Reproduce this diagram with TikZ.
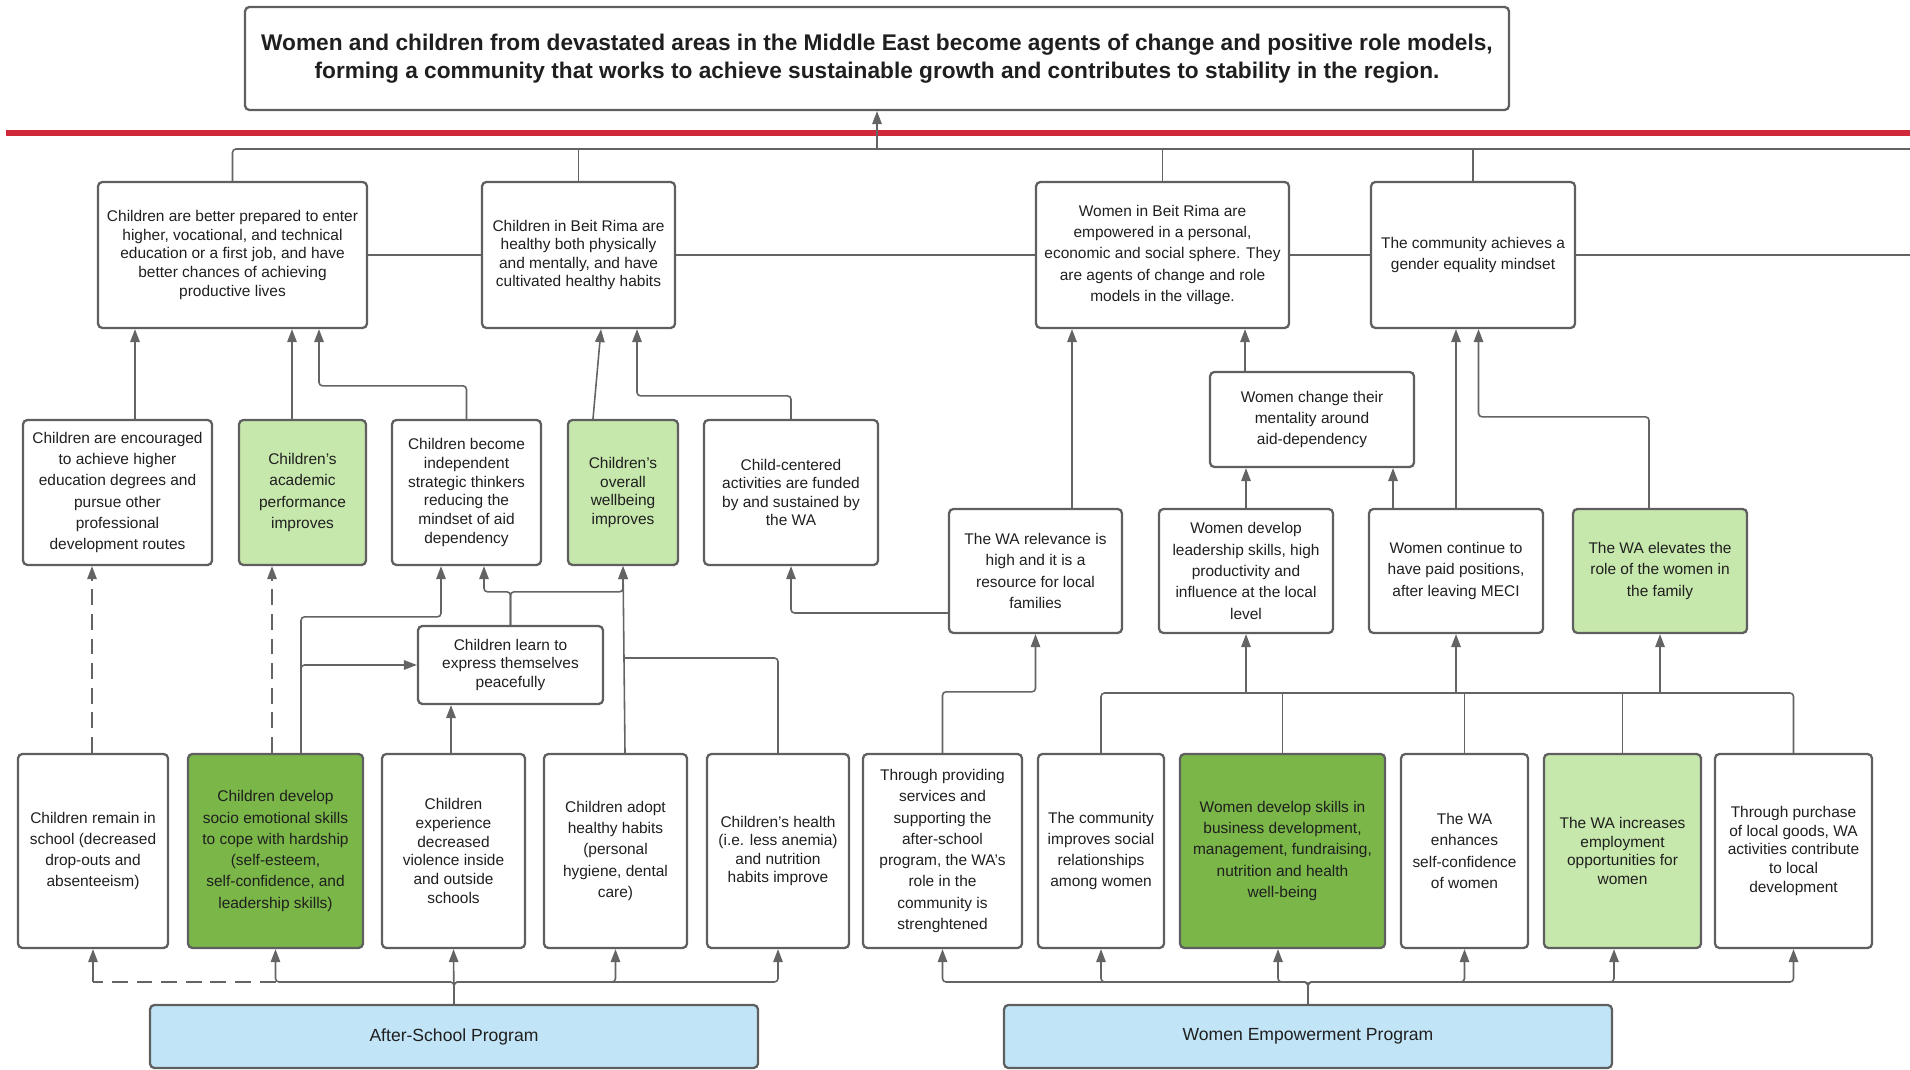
\documentclass[tikz,border=0pt]{standalone}
\usepackage{fontspec}
\setmainfont{Liberation Sans}
\usetikzlibrary{arrows.meta}
\definecolor{lineG}{RGB}{100,100,100}
\definecolor{edgeG}{RGB}{95,95,95}
\definecolor{paleG}{RGB}{199,232,172}
\definecolor{deepG}{RGB}{122,182,72}
\definecolor{paleB}{RGB}{193,228,247}
\definecolor{barR}{RGB}{207,40,56}

\begin{document}
\begin{tikzpicture}[font=\fontsize{8.8}{10.6}\selectfont, >={Triangle[length=2.6mm,width=1.9mm]}]
  \useasboundingbox (0,0) rectangle (38.2,21.4);
  \tikzstyle{box}=[draw=edgeG, line width=1.3pt, rounded corners=2.5pt, align=center, text=black!88, inner sep=1pt]
  \tikzstyle{loose}=[font=\fontsize{8.8}{12.1}\selectfont]
  \tikzstyle{prog}=[box, fill=paleB, minimum width=12.16cm, minimum height=1.26cm, font=\fontsize{10}{12}\selectfont]
  \tikzstyle{link}=[draw=lineG, line width=0.9pt, rounded corners=2pt]

  % goal and red line
  \node[box, font=\fontsize{12.9}{16}\selectfont\bfseries, minimum width=25.28cm, minimum height=2.06cm] (goal) at (17.54,20.23)
    {Women and children from devastated areas in the Middle East become agents of change and positive role models,\\ forming a community that works to achieve sustainable growth and contributes to stability in the region.};
  \draw[barR, line width=3pt] (0.12,18.74) -- (38.2,18.74);

  % long-term outcomes
  \node[box, minimum width=5.38cm, minimum height=2.92cm] (prepared) at (4.65,16.30)
    {Children are better prepared to enter\\ higher, vocational, and technical\\ education or a first job, and have\\ better chances of achieving\\ productive lives};
  \node[box, minimum width=3.86cm, minimum height=2.92cm] (healthy) at (11.57,16.30)
    {Children in Beit Rima are\\ healthy both physically\\ and mentally, and have\\ cultivated healthy habits};
  \node[box, loose, minimum width=5.06cm, minimum height=2.92cm] (empowered) at (23.25,16.30)
    {Women in Beit Rima are\\ empowered in a personal,\\ economic and social sphere. They\\ are agents of change and role\\ models in the village.};
  \node[box, loose, minimum width=4.08cm, minimum height=2.92cm] (equality) at (29.46,16.30)
    {The community achieves a\\ gender equality mindset};

  % intermediate outcomes, children
  \node[box, loose, minimum width=3.78cm, minimum height=2.90cm] (encouraged) at (2.35,11.55)
    {Children are encouraged\\ to achieve higher\\ education degrees and\\ pursue other\\ professional\\ development routes};
  \node[box, loose, fill=paleG, minimum width=2.54cm, minimum height=2.90cm] (academic) at (6.05,11.55)
    {Children's\\ academic\\ performance\\ improves};
  \node[box, minimum width=2.98cm, minimum height=2.90cm] (thinkers) at (9.33,11.55)
    {Children become\\ independent\\ strategic thinkers\\ reducing the\\ mindset of aid\\ dependency};
  \node[box, fill=paleG, minimum width=2.20cm, minimum height=2.90cm] (wellbeing) at (12.46,11.55)
    {Children's\\ overall\\ wellbeing\\ improves};
  \node[box, minimum width=3.48cm, minimum height=2.90cm] (funded) at (15.82,11.55)
    {Child-centered\\ activities are funded\\ by and sustained by\\ the WA};
  \node[box, minimum width=3.70cm, minimum height=1.56cm] (express) at (10.21,8.10)
    {Children learn to\\ express themselves\\ peacefully};

  % intermediate outcomes, women
  \node[box, loose, minimum width=4.08cm, minimum height=1.90cm] (mentality) at (26.24,13.01)
    {Women change their\\ mentality around\\ aid-dependency};
  \node[box, loose, minimum width=3.46cm, minimum height=2.48cm] (relevance) at (20.71,9.98)
    {The WA relevance is\\ high and it is a\\ resource for local\\ families};
  \node[box, loose, minimum width=3.48cm, minimum height=2.48cm] (leadership) at (24.92,9.98)
    {Women develop\\ leadership skills, high\\ productivity and\\ influence at the local\\ level};
  \node[box, loose, minimum width=3.48cm, minimum height=2.48cm] (paid) at (29.12,9.98)
    {Women continue to\\ have paid positions,\\ after leaving MECI};
  \node[box, loose, fill=paleG, minimum width=3.48cm, minimum height=2.48cm] (elevates) at (33.20,9.98)
    {The WA elevates the\\ role of the women in\\ the family};

  % short-term outcomes
  \node[box, loose, minimum width=3.00cm, minimum height=3.88cm] (inschool) at (1.86,4.38)
    {Children remain in\\ school (decreased\\ drop-outs and\\ absenteeism)};
  \node[box, loose, fill=deepG, minimum width=3.50cm, minimum height=3.88cm] (socio) at (5.51,4.38)
    {Children develop\\ socio emotional skills\\ to cope with hardship\\ (self-esteem,\\ self-confidence, and\\ leadership skills)};
  \node[box, minimum width=2.86cm, minimum height=3.88cm] (violence) at (9.07,4.38)
    {Children\\ experience\\ decreased\\ violence inside\\ and outside\\ schools};
  \node[box, loose, minimum width=2.86cm, minimum height=3.88cm] (habits) at (12.31,4.38)
    {Children adopt\\ healthy habits\\ (personal\\ hygiene, dental\\ care)};
  \node[box, minimum width=2.84cm, minimum height=3.88cm] (health) at (15.56,4.38)
    {Children's health\\ (i.e. less anemia)\\ and nutrition\\ habits improve};
  \node[box, loose, minimum width=3.18cm, minimum height=3.88cm] (services) at (18.85,4.38)
    {Through providing\\ services and\\ supporting the\\ after-school\\ program, the WA's\\ role in the\\ community is\\ strenghtened};
  \node[box, loose, minimum width=2.52cm, minimum height=3.88cm] (social) at (22.02,4.38)
    {The community\\ improves social\\ relationships\\ among women};
  \node[box, loose, fill=deepG, minimum width=4.10cm, minimum height=3.88cm] (skills) at (25.65,4.38)
    {Women develop skills in\\ business development,\\ management, fundraising,\\ nutrition and health\\ well-being};
  \node[box, loose, minimum width=2.54cm, minimum height=3.88cm] (confidence) at (29.29,4.38)
    {The WA\\ enhances\\ self-confidence\\ of women};
  \node[box, fill=paleG, minimum width=3.14cm, minimum height=3.88cm] (employment) at (32.45,4.38)
    {The WA increases\\ employment\\ opportunities for\\ women};
  \node[box, minimum width=3.14cm, minimum height=3.88cm] (goods) at (35.87,4.38)
    {Through purchase\\ of local goods, WA\\ activities contribute\\ to local\\ development};

  % programs
  \node[prog] (afterschool) at (9.08,0.67) {After-School Program};
  \node[prog] (womenprog) at (26.16,0.67) {Women Empowerment Program};

  % buses
  \coordinate (topbus) at (17.54,18.42);
  \coordinate (wbus) at (0,7.54);
  \coordinate (cbus) at (0,1.76);
  \coordinate (merge) at (12.48,8.24);

  % into the goal
  \draw[link] (prepared.north) |- (38.2,18.42);
  \draw[link] (healthy.north) -- (healthy.north |- topbus);
  \draw[link] (empowered.north) -- (empowered.north |- topbus);
  \draw[link] (equality.north) -- (equality.north |- topbus);
  \draw[link,->] (topbus) -- (goal.south);
  \draw[link] (prepared.east) -- (healthy.west);
  \draw[link] (healthy.east) -- (empowered.west);
  \draw[link] (empowered.east) -- (equality.west);
  \draw[link] (equality.east) -- (38.2,16.30);

  % children, middle rows
  \draw[link,->] ([xshift=3.5mm]encouraged.north) -- ([xshift=3.5mm]encouraged.north |- prepared.south);
  \draw[link,->] ([xshift=-2.1mm]academic.north) -- ([xshift=-2.1mm]academic.north |- prepared.south);
  \draw[link,->] (thinkers.north) -- ++(0,0.66) -| ([xshift=17.3mm]prepared.south);
  \draw[link,->] ([xshift=-6mm]wellbeing.north) -- ([xshift=4.5mm]healthy.south);
  \draw[link,->] (funded.north) -- ++(0,0.46) -| ([xshift=11.7mm]healthy.south);
  \draw[link,dashed,dash pattern=on 9pt off 5pt,->] ([xshift=-0.2mm]inschool.north) -- ([xshift=-0.2mm]inschool.north |- encouraged.south);
  \draw[link,dashed,dash pattern=on 9pt off 5pt,->] ([xshift=-0.7mm]socio.north) -- ([xshift=-0.7mm]socio.north |- academic.south);
  \draw[link,->] ([xshift=5.1mm]socio.north) -- ++(0,2.72) -| ([xshift=-5.1mm]thinkers.south);
  \draw[link,->] ([xshift=5.1mm]socio.north) |- (express.west);
  \draw[link,->] ([xshift=-0.5mm]violence.north) -- ([xshift=-0.5mm]violence.north |- express.south);
  \draw[link,->] (express.north) -- ++(0,0.66) -| ([xshift=3.5mm]thinkers.south);
  \draw[link,->] (express.north) -- ++(0,0.66) -| (wellbeing.south);
  \draw[link,->] ([xshift=1.9mm]habits.north) -- (wellbeing.south);
  \draw[link] (health.north) |- (merge);
  \draw[link,->] ([yshift=-8.4mm]relevance.west) -| (funded.south);

  % women, middle rows
  \draw[link,->] ([xshift=7.3mm]relevance.north) -- ([xshift=7.3mm]relevance.north |- empowered.south);
  \draw[link,->] ([xshift=-13.4mm]mentality.north) -- ([xshift=-13.4mm]mentality.north |- empowered.south);
  \draw[link,->] (leadership.north) -- (leadership.north |- mentality.south);
  \draw[link,->] ([xshift=-12.6mm]paid.north) -- ([xshift=-12.6mm]paid.north |- mentality.south);
  \draw[link,->] (paid.north) -- (paid.north |- equality.south);
  \draw[link,->] ([xshift=-2.2mm]elevates.north) -- ++(0,1.82) -| ([xshift=1.1mm]equality.south);
  \draw[link,->] (services.north) -- ++(0,1.22) -| (relevance.south);
  \draw[link] (social.north) |- (goods.north |- wbus) -- (goods.north);
  \draw[link] (skills.north) -- (skills.north |- wbus);
  \draw[link] (confidence.north) -- (confidence.north |- wbus);
  \draw[link] (employment.north) -- (employment.north |- wbus);
  \draw[link,->] (leadership.south |- wbus) -- (leadership.south);
  \draw[link,->] (paid.south |- wbus) -- (paid.south);
  \draw[link,->] (elevates.south |- wbus) -- (elevates.south);

  % programs to short-term outcomes
  \draw[link,dashed,dash pattern=on 9pt off 5pt] (socio.south |- cbus) -- (inschool.south |- cbus);
  \draw[link,->] (inschool.south |- cbus) -- (inschool.south);
  \draw[link,->] (afterschool.north) -- (afterschool.north |- cbus) -| (socio.south);
  \draw[link,->] (afterschool.north) -- (violence.south);
  \draw[link,->] (afterschool.north) -- (afterschool.north |- cbus) -| (habits.south);
  \draw[link,->] (afterschool.north) -- (afterschool.north |- cbus) -| (health.south);
  \draw[link,->] (womenprog.north) -- (womenprog.north |- cbus) -| (services.south);
  \draw[link,->] (womenprog.north) -- (womenprog.north |- cbus) -| (social.south);
  \draw[link,->] (womenprog.north) -- (womenprog.north |- cbus) -| ([xshift=-0.9mm]skills.south);
  \draw[link,->] (womenprog.north) -- (womenprog.north |- cbus) -| (confidence.south);
  \draw[link,->] (womenprog.north) -- (womenprog.north |- cbus) -| ([xshift=-1.7mm]employment.south);
  \draw[link,->] (womenprog.north) -- (womenprog.north |- cbus) -| (goods.south);
\end{tikzpicture}
\end{document}
